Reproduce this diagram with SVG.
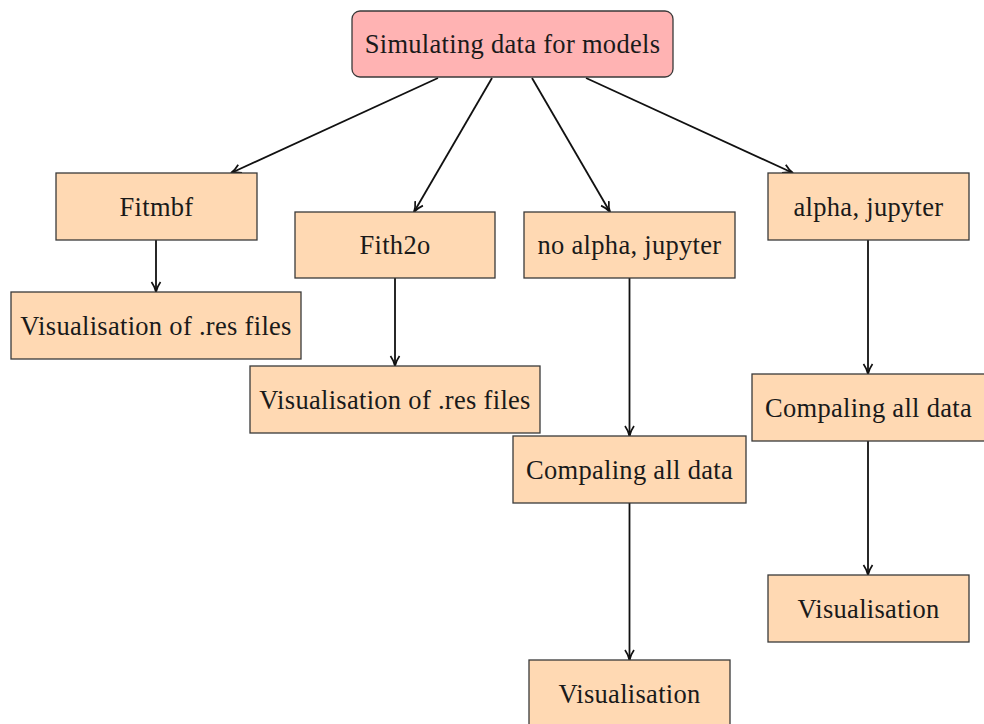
<svg xmlns="http://www.w3.org/2000/svg" width="984" height="724" viewBox="0 0 984 724">
<style>
.box{fill:#FFD9B3;stroke:#3a3a3a;stroke-width:1.3}
.top{fill:#FFB3B3;stroke:#3a3a3a;stroke-width:1.3}
text{font-family:"Liberation Serif","DejaVu Serif",serif;font-size:26.5px;fill:#1a1a1a;text-anchor:middle;dominant-baseline:central;letter-spacing:0.3px}
.c line{stroke:#111;stroke-width:1.8;marker-end:url(#ah)}
</style>
<defs>
<marker id="ah" viewBox="0 0 12 12" refX="11" refY="6" markerWidth="12" markerHeight="12" markerUnits="userSpaceOnUse" orient="auto">
<path d="M1,1.5 Q6,5 11,6 Q6,7 1,10.5" fill="none" stroke="#111" stroke-width="1.7"/>
</marker>
</defs>
<rect width="984" height="724" fill="#fff"/>
<g class="c" id="connectors">
<line x1="438" y1="78" x2="231" y2="173"/>
<line x1="492" y1="78" x2="414" y2="212"/>
<line x1="532" y1="78" x2="610" y2="212"/>
<line x1="586" y1="78" x2="793" y2="173"/>
<line x1="156" y1="240" x2="156" y2="292"/>
<line x1="395" y1="278" x2="395" y2="366"/>
<line x1="629.5" y1="278" x2="629.5" y2="436"/>
<line x1="629.5" y1="503" x2="629.5" y2="660"/>
<line x1="868" y1="240" x2="868" y2="374"/>
<line x1="868" y1="441" x2="868" y2="575"/>
</g>
<g id="root"><rect class="top" x="352" y="11" width="321" height="66" rx="8"/><text x="512.5" y="44">Simulating data for models</text></g>
<g id="fitmbf"><rect class="box" x="56" y="173" width="201" height="67"/><text x="156.5" y="206.5">Fitmbf</text></g>
<g id="vis1"><rect class="box" x="11" y="292" width="290" height="67"/><text x="156" y="325.5">Visualisation of .res files</text></g>
<g id="fith2o"><rect class="box" x="295" y="212" width="200" height="66"/><text x="395" y="245">Fith2o</text></g>
<g id="vis2"><rect class="box" x="250" y="366" width="290" height="67"/><text x="395" y="399.5">Visualisation of .res files</text></g>
<g id="noalpha"><rect class="box" x="524" y="212" width="211" height="66"/><text x="629.5" y="245">no alpha, jupyter</text></g>
<g id="comp1"><rect class="box" x="513" y="436" width="233" height="67"/><text x="629.5" y="469.5">Compaling all data</text></g>
<g id="vis3"><rect class="box" x="529" y="660" width="201" height="67"/><text x="629.5" y="694">Visualisation</text></g>
<g id="alpha"><rect class="box" x="768" y="173" width="201" height="67"/><text x="868.5" y="206.5">alpha, jupyter</text></g>
<g id="comp2"><rect class="box" x="752" y="374" width="233" height="67"/><text x="868.5" y="407.5">Compaling all data</text></g>
<g id="vis4"><rect class="box" x="768" y="575" width="201" height="67"/><text x="868.5" y="608.5">Visualisation</text></g>
</svg>
